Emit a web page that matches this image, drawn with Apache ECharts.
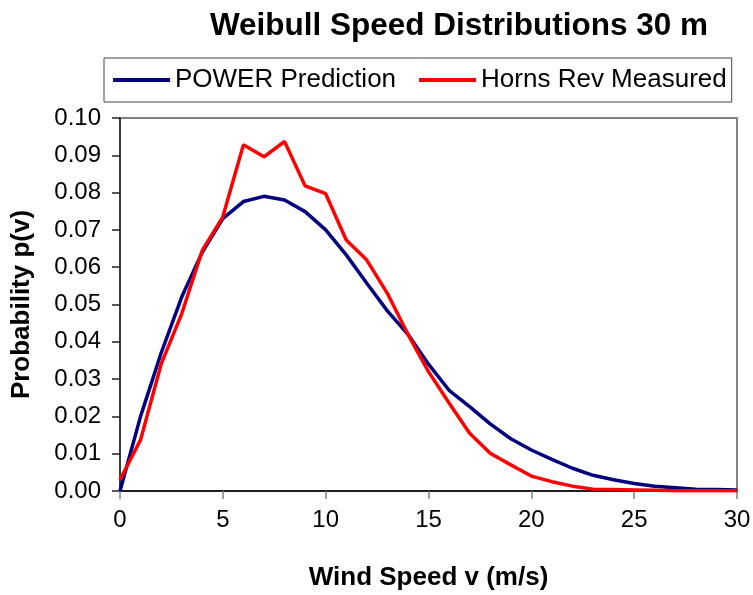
<!DOCTYPE html>
<html>
<head>
<meta charset="utf-8">
<script src="https://cdn.jsdelivr.net/npm/echarts@6/dist/echarts.min.js"></script>
<style>
  html, body { margin: 0; padding: 0; background: #fff; }
  #chart { width: 753px; height: 595px; }
</style>
</head>
<body>
<div id="chart"></div>
<script>
// wind speed, m/s
const speeds = [0, 1, 2, 3, 4, 5, 6, 7, 8, 9, 10, 11, 12, 13, 14, 15, 16, 17, 18, 19, 20,
  21, 22, 23, 24, 25, 26, 27, 28, 29, 30];
// POWER prediction
const powerPred = [0.000, 0.020, 0.037, 0.052, 0.064, 0.073, 0.0776, 0.079, 0.078, 0.0749, 0.070,
  0.0633, 0.0557, 0.0483, 0.042, 0.034, 0.027, 0.0226, 0.018, 0.014, 0.011,
  0.0085, 0.0061, 0.0042, 0.003, 0.002, 0.0013, 0.0009, 0.0005, 0.0004, 0.0003];
// Horns Rev measured
const hornsRev = [0.003, 0.0137, 0.034, 0.0475, 0.0645, 0.0735, 0.0928, 0.0896, 0.0937, 0.0818, 0.0797,
  0.0673, 0.0619, 0.053, 0.042, 0.032, 0.0236, 0.0155, 0.0101, 0.007, 0.004,
  0.0025, 0.0013, 0.0005, 0.0004, 0.0003, 0.0002, 0.0001, 0.0001, 0.0001, 0.0001];

const seriesNames = ['POWER Prediction', 'Horns Rev Measured'];
const seriesColors = ['#000080', '#ff0000'];

const pairs = (ys) => speeds.map((x, i) => [x, ys[i]]);

const chart = echarts.init(document.getElementById('chart'), null, { renderer: 'canvas' });
const font = 'Arial, "Liberation Sans", sans-serif';

const option = {
  backgroundColor: '#fff',
  animation: false,
  textStyle: { fontFamily: font },
  title: {
    text: 'Weibull Speed Distributions 30 m',
    left: 454,
    top: 5,
    textAlign: 'center',
    textStyle: { fontFamily: font, fontSize: 31.5, fontWeight: 'bold', color: '#000' }
  },
  legend: {
    data: seriesNames,
    left: 104,
    top: 58,
    padding: [9, 5, 9, 9],
    itemGap: 23,
    itemWidth: 57,
    itemHeight: 4,
    icon: 'rect',
    borderColor: '#444',
    borderWidth: 1,
    textStyle: { fontFamily: font, fontSize: 26, color: '#000' }
  },
  grid: {
    left: 120, top: 118, right: 16, bottom: 104,
    outerBoundsMode: 'none',
    show: true, borderColor: '#808080', borderWidth: 2
  },
  xAxis: {
    type: 'value',
    min: 0, max: 30, interval: 5,
    name: 'Wind Speed v (m/s)',
    nameLocation: 'middle',
    nameGap: 74,
    nameTextStyle: { fontFamily: font, fontSize: 26, fontWeight: 'bold', color: '#000' },
    axisLine: { lineStyle: { color: '#000', width: 1.5 } },
    axisTick: { show: true, length: 8, lineStyle: { color: '#808080', width: 1.5 } },
    axisLabel: { margin: 17, fontSize: 24, color: '#000', fontFamily: font },
    splitLine: { show: false }
  },
  yAxis: {
    type: 'value',
    min: 0, max: 0.1, interval: 0.01,
    name: 'Probability p(v)',
    nameLocation: 'middle',
    nameGap: 85,
    nameTextStyle: { fontFamily: font, fontSize: 26, fontWeight: 'bold', color: '#000' },
    axisLine: { show: true, lineStyle: { color: '#222', width: 1.5 } },
    axisTick: { show: true, length: 8, lineStyle: { color: '#222', width: 1.5 } },
    axisLabel: {
      margin: 19, fontSize: 24, color: '#000', fontFamily: font,
      formatter: (v) => v.toFixed(2)
    },
    splitLine: { show: false }
  },
  series: [
    {
      name: seriesNames[0],
      type: 'line',
      data: pairs(powerPred),
      showSymbol: false,
      color: seriesColors[0],
      lineStyle: { width: 3.5, color: seriesColors[0] },
      z: 3
    },
    {
      name: seriesNames[1],
      type: 'line',
      data: pairs(hornsRev),
      showSymbol: false,
      color: seriesColors[1],
      lineStyle: { width: 3.5, color: seriesColors[1] },
      z: 4
    }
  ]
};

chart.setOption(option);
</script>
</body>
</html>
